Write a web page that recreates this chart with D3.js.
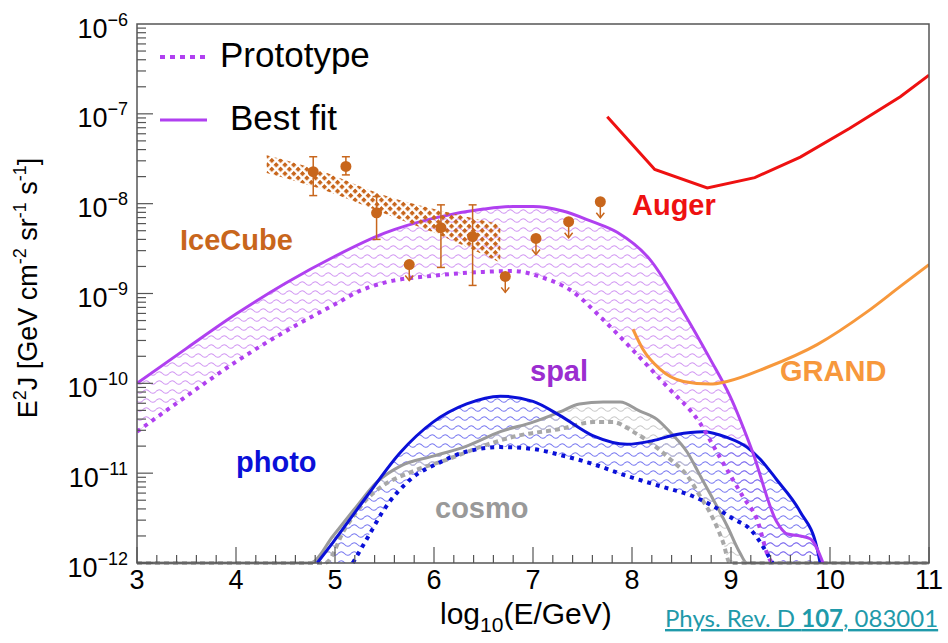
<!DOCTYPE html>
<html>
<head>
<meta charset="utf-8">
<script src="https://cdn.jsdelivr.net/npm/d3@7"></script>
<style>
body { margin: 0; background: #fff; }
svg { font-family: "Liberation Sans", Arial, Helvetica, sans-serif; }
</style>
</head>
<body>
<svg id="chart" width="948" height="643"></svg>
<script>
// [log10(E/GeV), E^2 J in GeV cm^-2 sr^-1 s^-1]
var bestFit = [[3.0,1.0e-10],[3.5,2.45e-10],[4.0,5.9e-10],[4.5,1.3e-9],[5.0,2.6e-9],[5.5,4.7e-9],[6.0,6.9e-9],
  [6.5,8.7e-9],[6.8,9.3e-9],[7.0,9.3e-9],[7.3,8.3e-9],[7.6,6.3e-9],[7.85,4.8e-9],[8.18,2.4e-9],[8.52,6.2e-10],
  [8.79,1.86e-10],[8.99,7.2e-11],[9.22,1.7e-11],[9.46,2.9e-12],[9.57,2.1e-12],[9.70,2.0e-12],[9.80,1.86e-12],[9.93,1.0e-12]];
var prototype = [[3.0,2.9e-11],[3.5,7.2e-11],[4.0,1.74e-10],[4.5,3.8e-10],[5.0,7.6e-10],[5.25,1.07e-9],[5.5,1.32e-9],
  [6.0,1.58e-9],[6.5,1.74e-9],[6.8,1.78e-9],[7.1,1.5e-9],[7.4,1.05e-9],[7.68,5.5e-10],[8.0,2.4e-10],[8.35,9.3e-11],
  [8.68,3.7e-11],[8.88,1.55e-11],[9.12,5.5e-12],[9.26,3.1e-12],[9.39,1.1e-12],[9.42,1.0e-12]];

var photoBest = [[4.82,1.0e-12],[4.98,1.7e-12],[5.32,5.5e-12],[5.66,1.7e-11],[5.99,3.7e-11],[6.33,5.9e-11],[6.67,7.2e-11],
  [7.0,6.3e-11],[7.27,4.4e-11],[7.61,2.6e-11],[7.95,2.1e-11],[8.21,2.3e-11],[8.45,2.7e-11],[8.72,2.9e-11],[8.96,2.5e-11],
  [9.16,1.95e-11],[9.29,1.45e-11],[9.46,8.5e-12],[9.70,3.7e-12],[9.87,1.45e-12],[9.90,1.0e-12]];
var photoProto = [[5.18,1.0e-12],[5.35,2.1e-12],[5.48,3.7e-12],[5.76,8.5e-12],[6.06,1.32e-11],[6.33,1.74e-11],[6.67,1.95e-11],
  [7.0,1.86e-11],[7.27,1.6e-11],[7.61,1.26e-11],[7.95,9.3e-12],[8.28,7.2e-12],[8.62,5.5e-12],[8.82,4.3e-12],[9.02,3.1e-12],
  [9.19,2.4e-12],[9.42,1.0e-12]];

var cosmoBest = [[3.0,1.0e-12],[4.75,1.0e-12],[4.98,2.0e-12],[5.22,4.3e-12],[5.42,7.9e-12],[5.66,1.2e-11],[5.99,1.55e-11],
  [6.33,2.0e-11],[6.67,2.9e-11],[7.0,3.7e-11],[7.27,4.8e-11],[7.47,5.9e-11],[7.71,6.2e-11],[7.88,6.2e-11],[8.08,4.9e-11],
  [8.25,4.0e-11],[8.38,2.9e-11],[8.56,1.7e-11],[8.69,9.3e-12],[8.82,5.1e-12],[8.96,2.6e-12],[9.09,1.3e-12],[9.16,1.0e-12],[11.0,1.0e-12]];
var cosmoProto = [[3.0,1.0e-12],[4.9,1.0e-12],[5.1,2.4e-12],[5.32,5.1e-12],[5.48,7.2e-12],[5.76,1.02e-11],[6.16,1.45e-11],
  [6.49,2.0e-11],[6.84,2.6e-11],[7.27,3.1e-11],[7.61,3.7e-11],[7.81,3.7e-11],[8.01,2.9e-11],[8.18,2.2e-11],[8.38,1.45e-11],
  [8.56,9.3e-12],[8.69,5.5e-12],[8.82,3.1e-12],[8.92,1.7e-12],[8.99,1.0e-12],[11.0,1.0e-12]];

var auger = [[7.75,9.3e-8],[8.23,2.4e-8],[8.76,1.5e-8],[9.24,1.95e-8],[9.70,3.3e-8],[10.20,6.9e-8],[10.71,1.55e-7],[11.0,2.7e-7]];
var grand = [[8.01,4.0e-10],[8.11,2.4e-10],[8.28,1.45e-10],[8.52,1.05e-10],[8.79,9.8e-11],[8.96,1.05e-10],[9.36,1.5e-10],
  [9.87,2.7e-10],[10.37,6.2e-10],[10.71,1.2e-9],[11.0,2.1e-9]];

// IceCube
var icBandUpper = [[4.31,3.47e-8],[4.82,2.4e-8],[5.48,1.26e-8],[6.16,7.9e-9],[6.67,5.9e-9]];
var icBandLower = [[4.31,2.2e-8],[4.82,1.5e-8],[5.48,7.9e-9],[6.16,4.0e-9],[6.67,2.2e-9]];
var icPointsX = [4.78, 5.11, 5.42, 6.07, 6.39];
var icPointsJ = [2.27e-8, 2.6e-8, 7.9e-9, 5.4e-9, 4.3e-9];
var icErrHi = [3.33e-8, 3.33e-8, 1.2e-8, 9.7e-9, 9.7e-9];
var icErrLo = [1.23e-8, 2.09e-8, 4.0e-9, 1.95e-9, 1.23e-9];
var icLimitX = [5.75, 6.72, 7.03, 7.36, 7.68];
var icLimitJ = [2.1e-9, 1.55e-9, 4.1e-9, 6.3e-9, 1.05e-8];

var xTickLabels = ['3','4','5','6','7','8','9','10','11'];
var yTickExps = ['\u22126','\u22127','\u22128','\u22129','\u221210','\u221211','\u221212'];

var purple = '#b040f0', blue = '#0a10d8', gray = '#9a9a9a', icOrange = '#c8661c';

var svg = d3.select('#chart');
var x = d3.scaleLinear().domain([3, 11]).range([137, 929]);
var y = d3.scaleLog().domain([1e-12, 1e-6]).range([563, 24]);

var defs = svg.append('defs');
defs.append('clipPath').attr('id','plotClip')
  .append('rect').attr('x', 137).attr('y', 24).attr('width', 792).attr('height', 542);

function wave(id, color)
{
  var p = defs.append('pattern').attr('id', id)
    .attr('patternUnits','userSpaceOnUse').attr('width', 13).attr('height', 9);
  p.append('path')
    .attr('d','M0,4.5 Q3.25,1 6.5,4.5 T13,4.5')
    .attr('fill','none').attr('stroke', color).attr('stroke-width', 1.1);
}
wave('waveSpal', '#d095f2');
wave('waveBlue', '#7575f0');
wave('waveGray', '#c8c8c8');

var cross = defs.append('pattern').attr('id','icCross')
  .attr('patternUnits','userSpaceOnUse').attr('width', 6.2).attr('height', 6.2)
  .attr('patternTransform','rotate(45)');
cross.append('rect').attr('x', 0).attr('y', 0).attr('width', 3.8).attr('height', 3.8).attr('fill', icOrange);

var line = d3.line().x(function(d){ return x(d[0]); }).y(function(d){ return y(d[1]); }).curve(d3.curveMonotoneX);
var poly = d3.line().x(function(d){ return x(d[0]); }).y(function(d){ return y(d[1]); });

function band(upper, lower)
{
  return line(upper) + line(lower.slice().reverse()).replace('M','L') + 'Z';
}

var plot = svg.append('g').attr('clip-path','url(#plotClip)');

// hatched bands
plot.append('path').attr('d', band(bestFit, prototype)).attr('fill','url(#waveSpal)');
plot.append('path').attr('d', band(photoBest, photoProto)).attr('fill','url(#waveBlue)');
plot.append('path').attr('d', band(cosmoBest, cosmoProto)).attr('fill','url(#waveGray)');

// cosmo
plot.append('path').attr('d', line(cosmoProto)).attr('fill','none')
  .attr('stroke','#a8a8a8').attr('stroke-width', 4).attr('stroke-dasharray','5 4');
plot.append('path').attr('d', line(cosmoBest)).attr('fill','none')
  .attr('stroke', gray).attr('stroke-width', 3);

// photo
plot.append('path').attr('d', line(photoProto)).attr('fill','none')
  .attr('stroke', blue).attr('stroke-width', 4).attr('stroke-dasharray','4 5');
plot.append('path').attr('d', line(photoBest)).attr('fill','none')
  .attr('stroke', blue).attr('stroke-width', 3);

// spal
plot.append('path').attr('d', line(prototype)).attr('fill','none')
  .attr('stroke', purple).attr('stroke-width', 4).attr('stroke-dasharray','4 5');
plot.append('path').attr('d', line(bestFit)).attr('fill','none')
  .attr('stroke', purple).attr('stroke-width', 3);

// IceCube band + points
plot.append('path').attr('d', band(icBandUpper, icBandLower)).attr('fill','url(#icCross)');

var pts = plot.append('g').attr('stroke', icOrange).attr('fill', icOrange);
icPointsX.forEach(function(px, i)
{
  var cx = x(px);
  pts.append('line').attr('x1', cx).attr('x2', cx).attr('y1', y(icErrHi[i])).attr('y2', y(icErrLo[i])).attr('stroke-width', 1.5);
  pts.append('line').attr('x1', cx - 4).attr('x2', cx + 4).attr('y1', y(icErrHi[i])).attr('y2', y(icErrHi[i])).attr('stroke-width', 1.5);
  pts.append('line').attr('x1', cx - 4).attr('x2', cx + 4).attr('y1', y(icErrLo[i])).attr('y2', y(icErrLo[i])).attr('stroke-width', 1.5);
  pts.append('circle').attr('cx', cx).attr('cy', y(icPointsJ[i])).attr('r', 5.5).attr('stroke','none');
});
icLimitX.forEach(function(px, i)
{
  var cx = x(px), cy = y(icLimitJ[i]);
  pts.append('line').attr('x1', cx).attr('x2', cx).attr('y1', cy).attr('y2', cy + 16).attr('stroke-width', 1.5);
  pts.append('path').attr('d', 'M' + (cx - 4) + ',' + (cy + 11) + 'L' + cx + ',' + (cy + 16) + 'L' + (cx + 4) + ',' + (cy + 11))
    .attr('fill','none').attr('stroke-width', 1.5);
  pts.append('circle').attr('cx', cx).attr('cy', cy).attr('r', 5.5).attr('stroke','none');
});

// experiments
plot.append('path').attr('d', poly(auger)).attr('fill','none').attr('stroke','#ee1111').attr('stroke-width', 3);
plot.append('path').attr('d', line(grand)).attr('fill','none').attr('stroke','#f7983c').attr('stroke-width', 3);

// labels
function label(txt, px, py, color)
{
  svg.append('text').attr('x', px).attr('y', py).text(txt)
    .style('font-size','29px').style('font-weight','bold').attr('fill', color);
}
label('IceCube', 180, 250, icOrange);
label('Auger', 632, 215, '#ee1111');
label('GRAND', 780, 381, '#f7983c');
label('spal', 530, 381, '#9b2dd0');
label('photo', 236, 472, blue);
label('cosmo', 435, 518, '#999999');

// legend
svg.append('line').attr('x1', 160).attr('x2', 207).attr('y1', 57).attr('y2', 57)
  .attr('stroke', purple).attr('stroke-width', 4).attr('stroke-dasharray','5 5');
svg.append('line').attr('x1', 160).attr('x2', 207).attr('y1', 120).attr('y2', 120)
  .attr('stroke', purple).attr('stroke-width', 3);
svg.append('text').attr('x', 220).attr('y', 67).text('Prototype').style('font-size','35px');
svg.append('text').attr('x', 230).attr('y', 130).text('Best fit').style('font-size','35px');

// frame and ticks
var axisColor = '#555';
var frame = svg.append('g').attr('stroke', axisColor).attr('stroke-width', 1.5).attr('fill','none');
frame.append('rect').attr('x', 137).attr('y', 24).attr('width', 792).attr('height', 539);

d3.range(3, 11.001, 0.2).forEach(function(v)
{
  var major = Math.abs(v - Math.round(v)) < 1e-6;
  frame.append('line').attr('x1', x(v)).attr('x2', x(v))
    .attr('y1', 563).attr('y2', 563 - (major ? 16 : 8)).attr('stroke-width', 1.2);
});
d3.range(-12, -6).forEach(function(e)
{
  d3.range(1, 10).forEach(function(m)
  {
    var v = m * Math.pow(10, e);
    frame.append('line').attr('x1', 137).attr('x2', 137 + (m === 1 ? 16 : 9))
      .attr('y1', y(v)).attr('y2', y(v)).attr('stroke-width', 1.2);
  });
});

xTickLabels.forEach(function(t, i)
{
  svg.append('text').attr('x', x(3 + i)).attr('y', 589).attr('text-anchor','middle')
    .style('font-size','27px').text(t);
});
yTickExps.forEach(function(t, i)
{
  var tx = svg.append('text').attr('x', 128).attr('y', y(Math.pow(10, -6 - i)) + 13.5).attr('text-anchor','end');
  tx.append('tspan').style('font-size','27px').text('10');
  tx.append('tspan').style('font-size','18px').attr('dy', -12).text(t);
});

// axis titles
var xt = svg.append('text').attr('x', 440).attr('y', 624).style('font-size','30px');
xt.append('tspan').text('log');
xt.append('tspan').style('font-size','21px').attr('dy', 8).text('10');
xt.append('tspan').attr('dy', -8).text('(E/GeV)');

var yt = svg.append('text').attr('transform','translate(37,288) rotate(-90)')
  .attr('text-anchor','middle').style('font-size','27px');
yt.append('tspan').text('E');
yt.append('tspan').style('font-size','18px').attr('dy', -11).text('2');
yt.append('tspan').attr('dy', 11).text('J [GeV cm');
yt.append('tspan').style('font-size','18px').attr('dy', -11).text('-2');
yt.append('tspan').attr('dy', 11).text(' sr');
yt.append('tspan').style('font-size','18px').attr('dy', -11).text('-1');
yt.append('tspan').attr('dy', 11).text(' s');
yt.append('tspan').style('font-size','18px').attr('dy', -11).text('-1');
yt.append('tspan').attr('dy', 11).text(']');

// reference
var ref = svg.append('text').attr('x', 665).attr('y', 627)
  .style('font-family','Lato, "Open Sans", sans-serif').style('font-size','24px')
  .attr('fill','#1f9aaa').style('text-decoration','underline');
ref.append('tspan').text('Phys. Rev. D ');
ref.append('tspan').style('font-weight','bold').text('107');
ref.append('tspan').text(', 083001');
</script>
</body>
</html>
